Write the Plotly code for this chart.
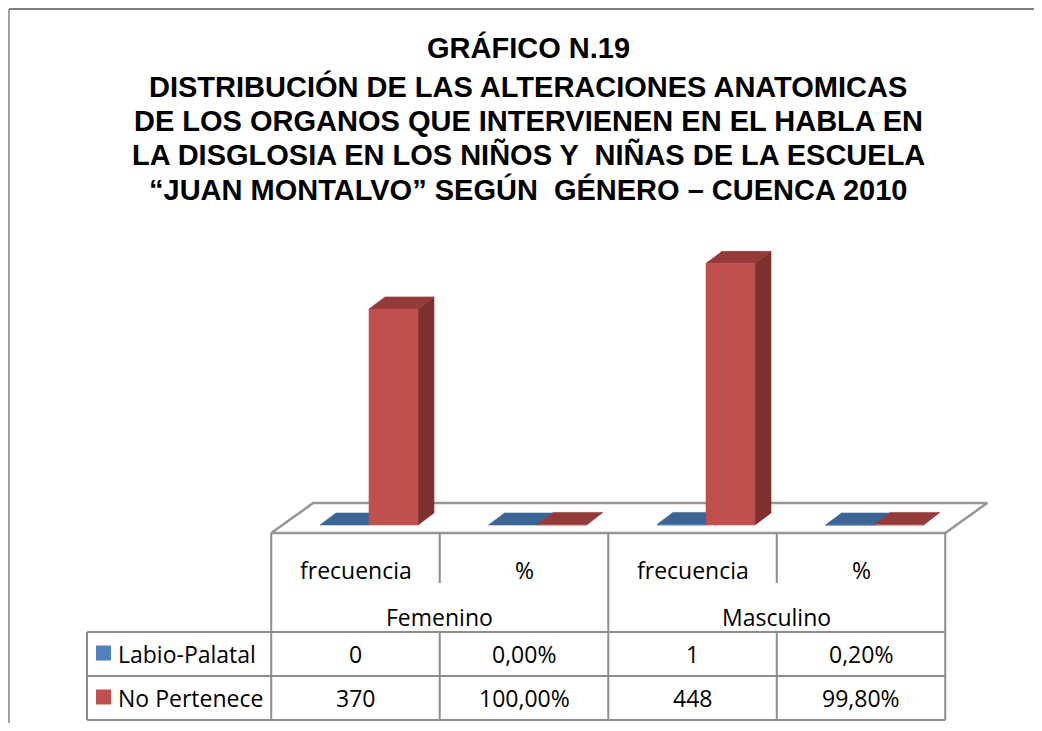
import plotly.graph_objects as go

# ---------------- data ----------------
categories = ["frecuencia", "%", "frecuencia", "%"]
groups = ["Femenino", "Masculino"]
series_names = ["Labio-Palatal", "No Pertenece"]
labio_palatal = [0, 0.0, 1, 0.002]
no_pertenece = [370, 1.0, 448, 0.998]
is_percent = [False, True, False, True]
title_lines = [
    "GRÁFICO N.19",
    "DISTRIBUCIÓN DE LAS ALTERACIONES ANATOMICAS",
    "DE LOS ORGANOS QUE INTERVIENEN EN EL HABLA EN",
    "LA DISGLOSIA EN LOS NIÑOS Y  NIÑAS DE LA ESCUELA",
    "“JUAN MONTALVO” SEGÚN  GÉNERO – CUENCA 2010",
]
series_values = [labio_palatal, no_pertenece]

# ---------------- layout constants (screen pixels) ----------------
W, H = 1042, 731
PAGE_OFF = 8                 # default body margin of the page
FW, FH = W - 2 * PAGE_OFF, H - 2 * PAGE_OFF
CAT0_PX = 355.5      # pixel centre of first category
CAT_PX = 168.5       # pixels per category
ZERO_PX = 525        # pixel row of value 0 (bar front bottom)
UNIT_PX = 0.584      # pixels per value unit
DOM_X = (250, 1000)
DOM_Y = (215, 545)   # top, bottom

def fx(px):
    return (px - PAGE_OFF) / FW

def fy(py):
    return 1 - (py - PAGE_OFF) / FH

def cat_px(c):
    return CAT0_PX + c * CAT_PX

x_range = [(DOM_X[0] - CAT0_PX) / CAT_PX, (DOM_X[1] - CAT0_PX) / CAT_PX]
y_range = [(ZERO_PX - DOM_Y[1]) / UNIT_PX, (ZERO_PX - DOM_Y[0]) / UNIT_PX]

DX = 16 / CAT_PX          # depth offset of bars (x)
DY = 12 / UNIT_PX         # depth offset of bars (y)
FLOOR_FRONT = (ZERO_PX - 533) / UNIT_PX
FLOOR_BACK = (ZERO_PX - 503) / UNIT_PX
FLOOR_SHIFT = 42 / CAT_PX
BAR_W = 49 / CAT_PX
BAR_START = -35.5 / CAT_PX

face_colors = [
    dict(front="#4F81BD", top="#3C6494", side="#2E4D74"),
    dict(front="#C0504D", top="#943B39", side="#7D302E"),
]
legend_colors = ["#4F81BD", "#C0504D"]

fig = go.Figure()

def poly(xs, ys, color, line_color=None, lw=0.6):
    fig.add_trace(go.Scatter(
        x=xs + [xs[0]], y=ys + [ys[0]], mode="lines", fill="toself",
        fillcolor=color, line=dict(color=line_color or color, width=lw),
        hoverinfo="skip", showlegend=False))

# floor
n = len(categories)
poly([-0.5, n - 0.5, n - 0.5 + FLOOR_SHIFT, -0.5 + FLOOR_SHIFT],
     [FLOOR_FRONT, FLOOR_FRONT, FLOOR_BACK, FLOOR_BACK],
     "white", line_color="#969696", lw=2.5)

# 3D columns
for i in range(n):
    for s, vals in enumerate(series_values):
        v = vals[i]
        x0 = i + BAR_START + s * BAR_W
        x1 = x0 + BAR_W
        c = face_colors[s]
        poly([x1, x1 + DX, x1 + DX, x1], [0, DY, v + DY, v], c["side"])
        poly([x0, x1, x1 + DX, x0 + DX], [v, v, v + DY, v + DY], c["top"])
        if v > 0:
            poly([x0, x1, x1, x0], [0, 0, v, v], c["front"])

# ---------------- data table ----------------
GRID = "#8c8c8c"
GW = 2
TABLE_LEFT = 87
TOP = 533
CAT_BOTTOM = 583
ROW_TOP = 632
ROW_MID = 676
ROW_BOTTOM = 720
edges = [cat_px(c - 0.5) for c in range(n + 1)]

shapes = []

def line(x0, y0, x1, y1, color=GRID, w=GW):
    shapes.append(dict(type="line", xref="paper", yref="paper",
                       x0=fx(x0), y0=fy(y0), x1=fx(x1), y1=fy(y1),
                       line=dict(color=color, width=w)))

# vertical lines
for k, ex in enumerate(edges):
    if k in (0, n // 2, n):
        line(ex, TOP, ex, ROW_BOTTOM)
    else:
        line(ex, TOP, ex, CAT_BOTTOM)
        line(ex, ROW_TOP, ex, ROW_BOTTOM)
line(TABLE_LEFT, ROW_TOP, TABLE_LEFT, ROW_BOTTOM)
for yy in (ROW_TOP, ROW_MID, ROW_BOTTOM):
    line(TABLE_LEFT, yy, edges[-1], yy)

# outer chart border (kept inside the figure)
line(9, 9, PAGE_OFF + FW, 9, color="#7f7f7f", w=2)
line(9, 9, 9, PAGE_OFF + FH, color="#a0a0a0", w=2)

annotations = []
TFONT = dict(family="Open Sans", size=23, color="#000000")

def text(t, px, py, font, xanchor="center"):
    annotations.append(dict(text=t, x=fx(px), y=fy(py), xref="paper", yref="paper",
                            showarrow=False, xanchor=xanchor, yanchor="middle",
                            font=font))

for i, cat in enumerate(categories):
    text(cat, cat_px(i), 570, TFONT)
gsize = n // len(groups)
for g, name in enumerate(groups):
    text(name, (edges[g * gsize] + edges[(g + 1) * gsize]) / 2, 617, TFONT)

def fmt(v, pct):
    if pct:
        return f"{v * 100:.2f}%".replace(".", ",")
    return f"{v:g}"

row_centers = [(ROW_TOP + ROW_MID) / 2, (ROW_MID + ROW_BOTTOM) / 2]
for s, name in enumerate(series_names):
    yc = row_centers[s]
    shapes.append(dict(type="rect", xref="paper", yref="paper",
                       x0=fx(96), x1=fx(111), y0=fy(yc - 1 + 7.5), y1=fy(yc - 1 - 7.5),
                       fillcolor=legend_colors[s], line=dict(width=0)))
    text(name, 116, yc, TFONT, xanchor="left")
    for i in range(n):
        text(fmt(series_values[s][i], is_percent[i]), cat_px(i), yc, TFONT)

# title
title_font = dict(family="Liberation Sans", size=29, color="#000000")
title_y = [48, 86, 121, 155, 189]
for t, ty in zip(title_lines, title_y):
    annotations.append(dict(text="<b>" + t.replace("  ", " &nbsp;") + "</b>",
                            x=fx(528), y=fy(ty), xref="paper", yref="paper",
                            showarrow=False, xanchor="center", yanchor="middle",
                            font=title_font))

fig.update_layout(
    width=FW, height=FH,
    margin=dict(l=0, r=0, t=0, b=0),
    paper_bgcolor="white", plot_bgcolor="rgba(0,0,0,0)",
    xaxis=dict(domain=[fx(DOM_X[0]), fx(DOM_X[1])], range=x_range, visible=False, fixedrange=True),
    yaxis=dict(domain=[fy(DOM_Y[1]), fy(DOM_Y[0])], range=y_range, visible=False, fixedrange=True),
    shapes=shapes, annotations=annotations, showlegend=False,
)

fig.write_html("out.html")
